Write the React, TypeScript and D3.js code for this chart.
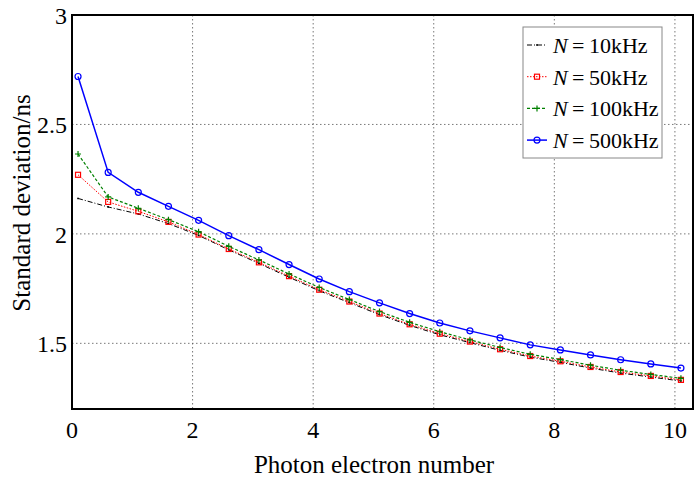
import { useEffect, useRef } from "react";
import * as d3 from "d3";

// photon electron number (x) for every series
const photons = [0.1, 0.6, 1.1, 1.6, 2.1, 2.6, 3.1, 3.6, 4.1, 4.6, 5.1, 5.6, 6.1, 6.6, 7.1, 7.6, 8.1, 8.6, 9.1, 9.6, 10.1];

const sd10k = [2.162, 2.123, 2.091, 2.047, 1.993, 1.927, 1.865, 1.802, 1.740, 1.686, 1.631, 1.582, 1.539, 1.503, 1.468, 1.437, 1.413, 1.387, 1.364, 1.346, 1.328];
const sd50k = [2.270, 2.146, 2.103, 2.055, 1.997, 1.931, 1.870, 1.807, 1.745, 1.691, 1.636, 1.587, 1.544, 1.508, 1.473, 1.442, 1.418, 1.392, 1.369, 1.351, 1.333];
const sd100k = [2.365, 2.169, 2.117, 2.065, 2.010, 1.943, 1.881, 1.817, 1.755, 1.700, 1.645, 1.596, 1.553, 1.516, 1.481, 1.450, 1.426, 1.400, 1.377, 1.358, 1.340];
const sd500k = [2.719, 2.281, 2.190, 2.126, 2.062, 1.992, 1.928, 1.860, 1.794, 1.736, 1.685, 1.636, 1.593, 1.557, 1.525, 1.493, 1.470, 1.447, 1.425, 1.406, 1.387];

const legendLabels = ["10kHz", "50kHz", "100kHz", "500kHz"];
const xTicks = [0, 2, 4, 6, 8, 10];
const yTicks = [1.5, 2, 2.5, 3];

const W = 700;
const H = 481;
const FONT = "'Liberation Serif', Tinos, 'Times New Roman', Times, 'Noto Serif', 'DejaVu Serif', FreeSerif, serif";

type Style = { color: string; width: number; dash: string | null; marker: "dot" | "square" | "plus" | "circle" };

const styles: Style[] = [
  { color: "#000000", width: 1, dash: "5,2,1,2", marker: "dot" },
  { color: "#ff0000", width: 1, dash: "1.5,1.5", marker: "square" },
  { color: "#008000", width: 1.2, dash: "3,2", marker: "plus" },
  { color: "#0000ff", width: 1.5, dash: null, marker: "circle" },
];

export default function App() {
  const svgRef = useRef<SVGSVGElement>(null);

  useEffect(() => {
    if (!svgRef.current) return;
    const svg = d3.select(svgRef.current);
    svg.selectAll("*").remove();

    const left = 72, right = 693, top = 15, bottom = 409;
    const x = d3.scaleLinear().domain([0, 10.3]).range([left, right]);
    const y = d3.scaleLinear().domain([1.2, 3]).range([bottom, top]);

    svg.append("rect").attr("width", W).attr("height", H).attr("fill", "#fff");

    // dotted grid
    const grid = svg.append("g").attr("stroke", "#555").attr("stroke-width", 0.8).attr("stroke-dasharray", "1.5,2.5");
    xTicks.filter((t) => t > 0).forEach((t) => {
      grid.append("line").attr("x1", x(t)).attr("x2", x(t)).attr("y1", top).attr("y2", bottom);
    });
    yTicks.filter((t) => t < 3).forEach((t) => {
      grid.append("line").attr("x1", left).attr("x2", right).attr("y1", y(t)).attr("y2", y(t));
    });

    const txt = svg.append("g").attr("font-family", FONT).attr("fill", "#000");

    // tick labels
    txt.append("g")
      .selectAll("text")
      .data(xTicks)
      .join("text")
      .attr("x", (d) => x(d))
      .attr("y", 438)
      .attr("text-anchor", "middle")
      .attr("font-size", 24)
      .text((d) => String(d));

    txt.append("g")
      .selectAll("text")
      .data(yTicks)
      .join("text")
      .attr("x", 67)
      .attr("y", (d) => y(d) + 9)
      .attr("text-anchor", "end")
      .attr("font-size", 24)
      .text((d) => String(d));

    // axis titles
    txt.append("text")
      .attr("x", 374)
      .attr("y", 473)
      .attr("text-anchor", "middle")
      .attr("font-size", 25)
      .text("Photon electron number");

    txt.append("text")
      .attr("transform", "translate(30,203) rotate(-90)")
      .attr("text-anchor", "middle")
      .attr("font-size", 25)
      .text("Standard deviation/ns");

    const series = [sd10k, sd50k, sd100k, sd500k];

    const drawMarker = (g: d3.Selection<SVGGElement, unknown, null, undefined>, cx: number, cy: number, s: Style) => {
      if (s.marker === "dot") {
        g.append("circle").attr("cx", cx).attr("cy", cy).attr("r", 0.9).attr("fill", s.color);
      } else if (s.marker === "square") {
        g.append("rect").attr("x", cx - 2.5).attr("y", cy - 2.5).attr("width", 5).attr("height", 5)
          .attr("fill", "none").attr("stroke", s.color).attr("stroke-width", 1.2);
      } else if (s.marker === "plus") {
        g.append("path").attr("d", `M${cx - 3},${cy}H${cx + 3}M${cx},${cy - 3}V${cy + 3}`)
          .attr("stroke", s.color).attr("stroke-width", 1.2);
      } else {
        g.append("circle").attr("cx", cx).attr("cy", cy).attr("r", 3)
          .attr("fill", "none").attr("stroke", s.color).attr("stroke-width", 1.2);
      }
    };

    const line = d3.line<number>().x((_, i) => x(photons[i])).y((d) => y(d));

    series.forEach((vals, k) => {
      const s = styles[k];
      const g = svg.append("g");
      g.append("path")
        .attr("d", line(vals))
        .attr("fill", "none")
        .attr("stroke", s.color)
        .attr("stroke-width", s.width)
        .attr("stroke-dasharray", s.dash);
      vals.forEach((v, i) => drawMarker(g, x(photons[i]), y(v), s));
    });

    // frame
    svg.append("rect")
      .attr("x", left).attr("y", top)
      .attr("width", right - left).attr("height", bottom - top)
      .attr("fill", "none").attr("stroke", "#000").attr("stroke-width", 2);

    // legend
    const lg = svg.append("g");
    lg.append("rect")
      .attr("x", 523).attr("y", 27).attr("width", 139).attr("height", 131)
      .attr("fill", "#fff").attr("stroke", "#888").attr("stroke-width", 1);
    legendLabels.forEach((lab, k) => {
      const s = styles[k];
      const ly = 45 + k * 31.7;
      const row = lg.append("g");
      row.append("line")
        .attr("x1", 527).attr("x2", 547).attr("y1", ly).attr("y2", ly)
        .attr("stroke", s.color).attr("stroke-width", s.width).attr("stroke-dasharray", s.dash);
      drawMarker(row, 537, ly, s);
      const t = row.append("text")
        .attr("x", 553).attr("y", ly + 8)
        .attr("font-family", FONT).attr("font-size", 22);
      t.append("tspan").attr("font-style", "italic").text("N");
      t.append("tspan").text("\u2009=\u2009" + lab);
    });
  }, []);

  return (
    <svg
      ref={svgRef}
      width={W}
      height={H}
      style={{ position: "absolute", left: 0, top: 0, display: "block" }}
    />
  );
}
